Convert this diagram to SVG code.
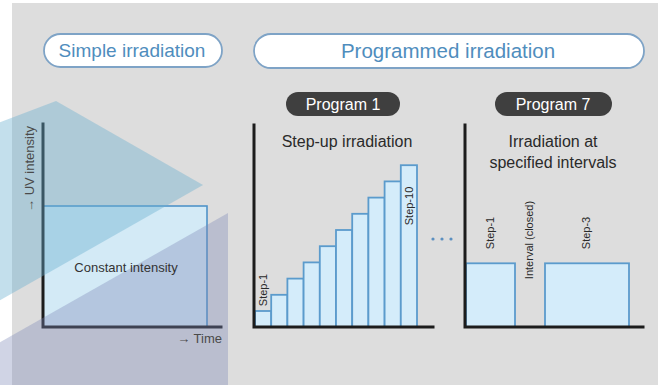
<svg xmlns="http://www.w3.org/2000/svg" width="665" height="385" viewBox="0 0 665 385">
<style>
.t{font-family:"Liberation Sans",Arial,sans-serif}
.pill{fill:#fff;stroke:#7ea3c6;stroke-width:1.8}
.hdr{fill:#4f8dbd;text-anchor:middle}
.badge{fill:#3f3f3f}
.btxt{fill:#fff;text-anchor:middle;font-size:16px}
.axis{stroke:#1c1c1c;stroke-width:3;fill:none;stroke-linecap:square}
.bar{fill:#d4ecfa;stroke:#5b9bcc;stroke-width:1.8}
.title{fill:#2a2a2a;text-anchor:middle;font-size:16px}
.lbl{fill:#2a2a2a;text-anchor:middle;font-size:11px}
.ax{fill:#4a4a4a;font-size:13px}
</style>
<rect x="0" y="0" width="665" height="385" fill="#ffffff"/>
<rect x="12" y="3" width="646" height="382" fill="#dddddd"/>

<g id="simple-chart">
  <rect x="43" y="206" width="164" height="121" fill="#d3eaf6" stroke="#4f93c9" stroke-width="1.6"/>
  <path class="axis" d="M43 124 V327 H221"/>
</g>

<g id="decor">
  <polygon points="56,101 203,185 -10,306 -10,126" fill="#6aaed0" fill-opacity="0.4"/>
  <polygon points="228,213 228,385 -10,385 -10,348" fill="#7d88b8" fill-opacity="0.36"/>
</g>

<g id="simple-chart-labels">
  <text class="t ax" transform="translate(34,169) rotate(-90)" text-anchor="middle">→ UV intensity</text>
  <text class="t" x="126" y="272" font-size="13" fill="#333" text-anchor="middle">Constant intensity</text>
  <text class="t ax" x="222" y="343" text-anchor="end">→ Time</text>
</g>

<g id="simple-header">
  <rect class="pill" x="44" y="34" width="178" height="33" rx="16.5"/>
  <text class="t hdr" x="132" y="57" font-size="19">Simple irradiation</text>
</g>

<g id="programmed-header">
  <rect class="pill" x="254" y="34" width="390" height="34" rx="17"/>
  <text class="t hdr" x="448" y="58" font-size="20.5">Programmed irradiation</text>
</g>

<g id="program1-badge">
  <rect class="badge" x="286" y="92" width="114" height="24" rx="12"/>
  <text class="t btxt" x="343" y="110">Program 1</text>
</g>

<g id="program7-badge">
  <rect class="badge" x="495" y="92" width="117" height="24" rx="12"/>
  <text class="t btxt" x="553" y="110">Program 7</text>
</g>

<g id="program1-chart">
  <text class="t title" x="347" y="147">Step-up irradiation</text>
  <rect class="bar" x="255" y="311" width="16.2" height="16"/>
  <rect class="bar" x="271.2" y="294.8" width="16.2" height="32.2"/>
  <rect class="bar" x="287.4" y="278.6" width="16.2" height="48.4"/>
  <rect class="bar" x="303.6" y="262.4" width="16.2" height="64.6"/>
  <rect class="bar" x="319.8" y="246.2" width="16.2" height="80.8"/>
  <rect class="bar" x="336" y="230" width="16.2" height="97"/>
  <rect class="bar" x="352.2" y="213.8" width="16.2" height="113.2"/>
  <rect class="bar" x="368.4" y="197.6" width="16.2" height="129.4"/>
  <rect class="bar" x="384.6" y="181.4" width="16.2" height="145.6"/>
  <rect class="bar" x="400.8" y="165.2" width="16.2" height="161.8"/>
  <path class="axis" d="M254 125 V327 H433"/>
  <text class="t lbl" transform="translate(267,290) rotate(-90)">Step-1</text>
  <text class="t lbl" transform="translate(413,206) rotate(-90)">Step-10</text>
</g>

<g id="ellipsis" fill="#5b8fc0">
  <circle cx="433" cy="239" r="1.6"/>
  <circle cx="442" cy="239" r="1.6"/>
  <circle cx="451" cy="239" r="1.6"/>
</g>

<g id="program7-chart">
  <text class="t title" x="553" y="147">Irradiation at</text>
  <text class="t title" x="553" y="168">specified intervals</text>
  <rect class="bar" x="466" y="263.3" width="49" height="63.7"/>
  <rect class="bar" x="545" y="263.3" width="84" height="63.7"/>
  <path class="axis" d="M465 125 V327 H643"/>
  <text class="t lbl" transform="translate(494,233) rotate(-90)">Step-1</text>
  <text class="t lbl" transform="translate(533,240) rotate(-90)">Interval (closed)</text>
  <text class="t lbl" transform="translate(590,233) rotate(-90)">Step-3</text>
</g>

<g id="connectors"></g>
</svg>
